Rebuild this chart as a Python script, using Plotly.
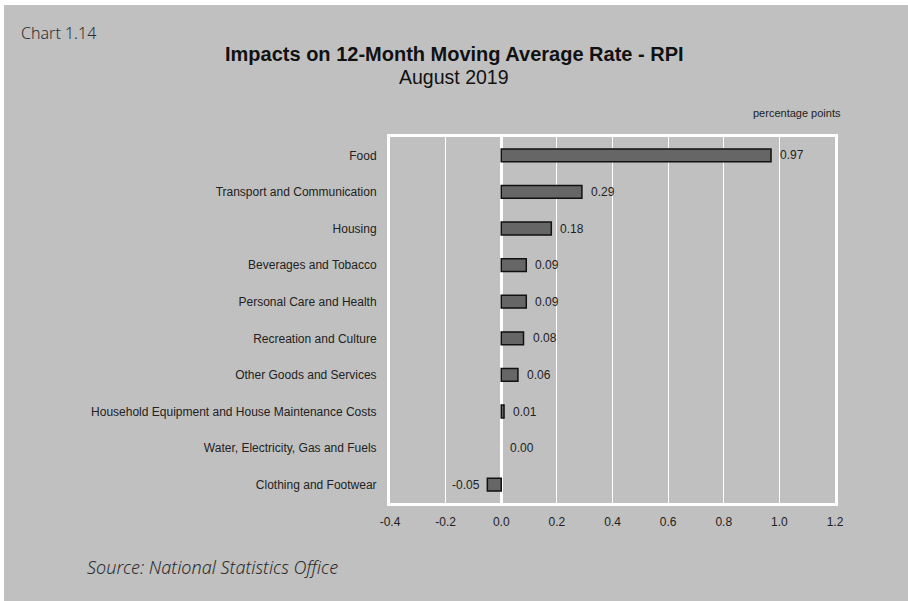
import plotly.graph_objects as go

categories = [
    "Food",
    "Transport and Communication",
    "Housing",
    "Beverages and Tobacco",
    "Personal Care and Health",
    "Recreation and Culture",
    "Other Goods and Services",
    "Household Equipment and House Maintenance Costs",
    "Water, Electricity, Gas and Fuels",
    "Clothing and Footwear",
]
values = [0.97, 0.29, 0.18, 0.09, 0.09, 0.08, 0.06, 0.01, 0.00, -0.05]
x_ticks = [-0.4, -0.2, 0.0, 0.2, 0.4, 0.6, 0.8, 1.0, 1.2]

BG = "#c0c0c0"
W, H = 908, 601
L, R, T, B = 390, 835, 137, 503

fig = go.Figure()
fig.add_trace(go.Bar(
    y=categories, x=values, orientation="h",
    marker=dict(color="#666666",
                line=dict(color="#111111", width=[0 if v == 0 else 1.5 for v in values])),
    width=0.35, hoverinfo="x+y",
))

pw, ph = R - L, B - T
def px(x):
    return (x - L) / pw
def py(y):
    return (B - y) / ph

label_font = dict(family="Liberation Sans, Arial", size=12, color="#222222")
annotations = []
for c, v in zip(categories, values):
    annotations.append(dict(
        x=v, y=c, xref="x", yref="y", text=f"{v:.2f}", showarrow=False,
        xanchor="right" if v < 0 else "left", yanchor="middle",
        xshift=-5 if v < 0 else 7, font=label_font,
    ))

annotations += [
    dict(text="Chart 1.14", xref="paper", yref="paper", x=px(19), y=py(33),
         xanchor="left", yanchor="middle", showarrow=False,
         font=dict(family="Noto Sans", size=16, color="#2e2e2e", weight=300)),
    dict(text="<b>Impacts on 12-Month Moving Average Rate - RPI</b>", xref="paper", yref="paper",
         x=px(454), y=py(54), xanchor="center", yanchor="middle", showarrow=False,
         font=dict(family="Liberation Sans, Arial", size=20, color="#111111")),
    dict(text="August 2019", xref="paper", yref="paper",
         x=px(454), y=py(77), xanchor="center", yanchor="middle", showarrow=False,
         font=dict(family="Liberation Sans, Arial", size=19.5, color="#111111")),
    dict(text="percentage points", xref="paper", yref="paper",
         x=px(843), y=py(113), xanchor="right", yanchor="middle", showarrow=False,
         font=dict(family="Liberation Sans, Arial", size=11, color="#222222")),
    dict(text="<i>Source: National Statistics Office</i>", xref="paper", yref="paper",
         x=px(85), y=py(567), xanchor="left", yanchor="middle", showarrow=False,
         font=dict(family="Noto Sans", size=18, color="#2e2e2e", weight=300)),
]

shapes = [
    # white outer margins (top and left)
    dict(type="rect", xref="paper", yref="paper", x0=px(-2), x1=px(W + 2), y0=py(5), y1=py(-2),
         fillcolor="white", line=dict(width=0), layer="below"),
    dict(type="rect", xref="paper", yref="paper", x0=px(-2), x1=px(4), y0=py(H + 2), y1=py(-2),
         fillcolor="white", line=dict(width=0), layer="below"),
]

fig.update_layout(
    width=W, height=H,
    paper_bgcolor=BG, plot_bgcolor=BG,
    margin=dict(l=L, r=W - R, t=T, b=H - B, pad=0),
    showlegend=False,
    shapes=shapes,
    annotations=annotations,
    xaxis=dict(
        range=[-0.4, 1.2], tickvals=x_ticks, ticktext=[f"{t:.1f}" for t in x_ticks],
        showgrid=True, gridcolor="white", gridwidth=1,
        zeroline=True, zerolinecolor="white", zerolinewidth=3,
        showline=True, linecolor="white", linewidth=3, mirror=True,
        ticks="", ticklabelstandoff=6,
        tickfont=label_font,
    ),
    yaxis=dict(
        autorange=False, range=[9.5, -0.5], type="category",
        categoryorder="array", categoryarray=categories,
        showgrid=False, zeroline=False,
        showline=True, linecolor="white", linewidth=3, mirror=True,
        ticks="", ticklabelstandoff=8,
        tickfont=label_font,
    ),
)

fig.write_html(
    "out.html",
    config={"displayModeBar": False},
    post_script=("document.body.style.margin='0';document.body.style.overflow='hidden';"
                 "document.body.style.background='#c0c0c0';"
                 "document.documentElement.style.background='#c0c0c0';"),
)
